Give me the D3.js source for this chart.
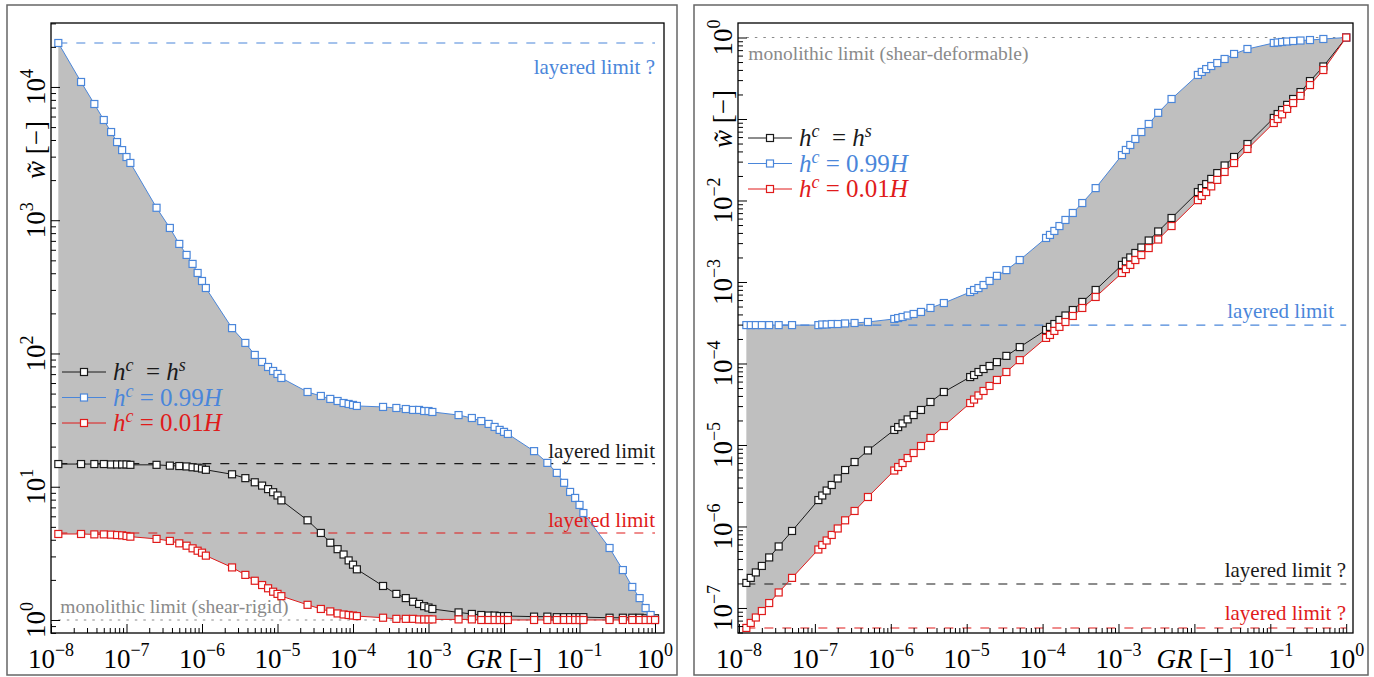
<!DOCTYPE html>
<html>
<head>
<meta charset="utf-8">
<script src="https://d3js.org/d3.v7.min.js"></script>
<style>
  body { margin: 0; background: #fff; }
  svg text { font-family: "Liberation Serif", "DejaVu Serif", serif; }
</style>
</head>
<body>
<svg id="chart" width="1374" height="677"></svg>
<script>
// ---- data ----
// left panel (shear-rigid)
const grLeft = [
  1.25e-8, 2.5e-8, 3.75e-8, 5e-8, 6.25e-8, 7.5e-8, 8.75e-8, 1e-7, 1.125e-7,
  2.5e-7, 3.75e-7, 5e-7, 6.25e-7, 7.5e-7, 8.75e-7, 1e-6, 1.125e-6,
  2.5e-6, 3.75e-6, 5e-6, 6.25e-6, 7.5e-6, 8.75e-6, 1e-5, 1.125e-5,
  2.5e-5, 3.75e-5, 5e-5, 6.25e-5, 7.5e-5, 8.75e-5, 1e-4, 1.125e-4,
  2.5e-4, 3.75e-4, 5e-4, 6.25e-4, 7.5e-4, 8.75e-4, 1e-3, 1.125e-3,
  2.5e-3, 3.75e-3, 5e-3, 6.25e-3, 7.5e-3, 8.75e-3, 1e-2, 1.125e-2,
  2.5e-2, 3.75e-2, 5e-2, 6.25e-2, 7.5e-2, 8.75e-2, 1e-1, 1.125e-1,
  2.5e-1, 3.75e-1, 5e-1, 6.25e-1, 7.5e-1, 8.75e-1, 1
];
const wLeftEqual = [
  14.8, 14.8, 14.8, 14.8, 14.7, 14.7, 14.7, 14.7, 14.6,
  14.6, 14.4, 14.3, 14.2, 14.0, 13.9, 13.7, 13.4,
  12.4, 11.6, 10.8, 10.2, 9.6, 9.1, 8.6, 7.9,
  5.6, 4.5, 3.8, 3.4, 3.1, 2.8, 2.6, 2.4,
  1.80, 1.57, 1.46, 1.37, 1.32, 1.27, 1.24, 1.21,
  1.14, 1.11, 1.09, 1.08, 1.08, 1.07, 1.07, 1.07,
  1.06, 1.06, 1.05, 1.05, 1.05, 1.05, 1.05, 1.05,
  1.04, 1.04, 1.04, 1.04, 1.03, 1.03, 1.03
];
const wLeftThick = [
  21380, 10900, 7450, 5650, 4590, 3860, 3360, 2980, 2690,
  1240, 875, 664, 549, 470, 402, 350, 310,
  155, 120, 97.5, 86.4, 79.2, 73.9, 70.2, 65.5,
  51.4, 48, 45.6, 44, 42.5, 41.8, 41.1, 40.4,
  39.7, 39, 38.3, 37.7, 37.7, 37, 37, 36.4,
  34.5, 32.8, 31.1, 29.6, 28.1, 26.7, 25.8, 24.9,
  18.5, 15.1, 12.7, 10.7, 9.14, 8.24, 7.3, 6.35,
  3.47, 2.37, 1.77, 1.46, 1.23, 1.09, 1.0
];
const wLeftThin = [
  4.42, 4.42, 4.39, 4.39, 4.37, 4.34, 4.32, 4.27, 4.22,
  4.06, 3.92, 3.76, 3.61, 3.45, 3.31, 3.20, 3.04,
  2.48, 2.18, 1.97, 1.83, 1.73, 1.63, 1.57, 1.51,
  1.30, 1.21, 1.16, 1.12, 1.10, 1.09, 1.08, 1.07,
  1.04, 1.02, 1.02, 1.02, 1.01, 1.01, 1.01, 1.01,
  1.01, 1.01, 1.0, 1.0, 1.0, 1.0, 1.0, 1.0,
  1.0, 1.0, 1.0, 1.0, 1.0, 1.0, 1.0, 1.0,
  1.0, 1.0, 1.0, 1.0, 1.0, 1.0, 1.0
];
const limitsLeft = [21400, 14.9, 4.5, 1];
const limitLabelsLeft = ["layered limit ?", "layered limit", "layered limit", "monolithic limit (shear-rigid)"];

// right panel (shear-deformable)
const grRight = [
  1.25e-8, 1.429e-8, 1.667e-8, 2e-8, 2.5e-8, 3.333e-8, 5e-8,
  1.111e-7, 1.25e-7, 1.429e-7, 1.667e-7, 2e-7, 2.5e-7, 3.333e-7, 5e-7,
  1.111e-6, 1.25e-6, 1.429e-6, 1.667e-6, 2e-6, 2.5e-6, 3.333e-6, 5e-6,
  1.111e-5, 1.25e-5, 1.429e-5, 1.667e-5, 2e-5, 2.5e-5, 3.333e-5, 5e-5,
  1.111e-4, 1.25e-4, 1.429e-4, 1.667e-4, 2e-4, 2.5e-4, 3.333e-4, 5e-4,
  1.111e-3, 1.25e-3, 1.429e-3, 1.667e-3, 2e-3, 2.5e-3, 3.333e-3, 5e-3,
  1.111e-2, 1.25e-2, 1.429e-2, 1.667e-2, 2e-2, 2.5e-2, 3.333e-2, 5e-2,
  0.1111, 0.125, 0.1429, 0.1667, 0.2, 0.25, 0.3333, 0.5, 1
];
const wRightEqual = [
  2.03e-7, 2.34e-7, 2.73e-7, 3.28e-7, 4.17e-7, 5.69e-7, 8.81e-7,
  2.11e-6, 2.40e-6, 2.76e-6, 3.23e-6, 3.88e-6, 4.93e-6, 6.18e-6, 8.57e-6,
  1.53e-5, 1.66e-5, 1.84e-5, 2.06e-5, 2.33e-5, 2.69e-5, 3.37e-5, 4.47e-5,
  6.82e-5, 7.22e-5, 7.86e-5, 8.56e-5, 9.32e-5, 1.04e-4, 1.24e-4, 1.59e-4,
  2.58e-4, 2.81e-4, 3.05e-4, 3.42e-4, 3.88e-4, 4.53e-4, 5.69e-4, 7.98e-4,
  1.62e-3, 1.79e-3, 2.00e-3, 2.27e-3, 2.65e-3, 3.23e-3, 4.17e-3, 6.10e-3,
  1.27e-2, 1.42e-2, 1.59e-2, 1.84e-2, 2.17e-2, 2.69e-2, 3.42e-2, 4.93e-2,
  0.103, 0.115, 0.129, 0.149, 0.176, 0.214, 0.292, 0.441, 1.0
];
const wRightThick = [
  2.96e-4, 2.96e-4, 2.96e-4, 2.96e-4, 2.96e-4, 2.96e-4, 2.96e-4,
  2.96e-4, 3.01e-4, 3.01e-4, 3.05e-4, 3.05e-4, 3.10e-4, 3.14e-4, 3.23e-4,
  3.52e-4, 3.61e-4, 3.72e-4, 3.88e-4, 4.05e-4, 4.29e-4, 4.80e-4, 5.52e-4,
  7.53e-4, 7.98e-4, 8.43e-4, 9.18e-4, 1.03e-3, 1.19e-3, 1.40e-3, 1.86e-3,
  3.47e-3, 3.78e-3, 4.23e-3, 4.86e-3, 5.77e-3, 7.03e-3, 9.31e-3, 1.42e-2,
  3.61e-2, 4.17e-2, 4.80e-2, 5.69e-2, 6.92e-2, 8.69e-2, 0.119, 0.176,
  0.347, 0.378, 0.410, 0.447, 0.486, 0.545, 0.628, 0.723,
  0.857, 0.869, 0.881, 0.893, 0.906, 0.918, 0.931, 0.959, 1.0
];
const wRightThin = [
  5.69e-8, 6.55e-8, 7.64e-8, 9.18e-8, 1.15e-7, 1.55e-7, 2.34e-7,
  5.22e-7, 5.93e-7, 6.73e-7, 7.87e-7, 9.45e-7, 1.19e-6, 1.55e-6, 2.30e-6,
  4.86e-6, 5.37e-6, 6.01e-6, 6.92e-6, 7.97e-6, 9.72e-6, 1.22e-5, 1.71e-5,
  3.27e-5, 3.61e-5, 4.05e-5, 4.60e-5, 5.30e-5, 6.28e-5, 7.86e-5, 1.10e-4,
  2.06e-4, 2.24e-4, 2.51e-4, 2.81e-4, 3.23e-4, 3.83e-4, 4.80e-4, 6.55e-4,
  1.29e-3, 1.44e-3, 1.62e-3, 1.86e-3, 2.14e-3, 2.61e-3, 3.32e-3, 4.86e-3,
  1.01e-2, 1.14e-2, 1.27e-2, 1.49e-2, 1.79e-2, 2.24e-2, 2.88e-2, 4.29e-2,
  8.93e-2, 0.100, 0.114, 0.133, 0.157, 0.192, 0.261, 0.399, 1.0
];
const limitsRight = [1, 2.96e-4, 1.97e-7, 5.69e-8];
const limitLabelsRight = ["monolithic limit (shear-deformable)", "layered limit", "layered limit ?", "layered limit ?"];

const xTickExps = [-8, -7, -6, -5, -4, -3, -2, -1, 0];

// ---- styles ----
const BLACK = "#1a1a1a", BLUE = "#4a86da", RED = "#e01b1b", GREY = "#8a8a8a", FILL = "#bfbfbf";
const seriesColors = [BLACK, BLUE, RED];

const svg = d3.select("#chart");

function powLabel(text, exp) {
  text.append("tspan").text("10");
  text.append("tspan").attr("dy", -12).attr("font-size", 18)
    .text(exp < 0 ? "\u2212" + (-exp) : String(exp));
}

function drawPanel(cfg) {
  const x = d3.scaleLog().domain(cfg.xDomain).range([cfg.left, cfg.right]);
  const y = d3.scaleLog().domain(cfg.yDomain).range([cfg.bottom, cfg.top]);

  // outer box
  svg.append("rect")
    .attr("x", cfg.box[0]).attr("y", cfg.box[1])
    .attr("width", cfg.box[2] - cfg.box[0]).attr("height", cfg.box[3] - cfg.box[1])
    .attr("fill", "none").attr("stroke", "#666").attr("stroke-width", 1.5);

  const g = svg.append("g");

  // grey band between the 0.99H and 0.01H curves
  const band = cfg.gr.map((v, i) => ({ gr: v, hi: cfg.series[1][i], lo: cfg.series[2][i] }));
  g.append("path")
    .datum(band)
    .attr("fill", FILL)
    .attr("d", d3.area().x(d => x(d.gr)).y0(d => y(d.lo)).y1(d => y(d.hi)));

  // limit lines
  const x0 = x(cfg.gr[0]), x1 = x(cfg.gr[cfg.gr.length - 1]);
  cfg.limits.forEach((v, i) => {
    const st = cfg.limitStyle[i];
    g.append("line")
      .attr("x1", x0).attr("x2", x1).attr("y1", y(v)).attr("y2", y(v))
      .attr("stroke", st.color).attr("stroke-width", 1.1)
      .attr("stroke-dasharray", st.dotted ? "2.5,6" : "9,9");
    g.append("text")
      .attr("x", st.anchor === "end" ? st.tx : x0 + 2)
      .attr("y", y(v) + st.dy)
      .attr("text-anchor", st.anchor)
      .attr("font-size", st.size)
      .attr("fill", st.color)
      .text(cfg.limitLabels[i]);
  });

  // series
  const line = d3.line().x(d => x(d[0])).y(d => y(d[1]));
  cfg.series.forEach((s, si) => {
    const pts = cfg.gr.map((v, i) => [v, s[i]]);
    g.append("path").datum(pts)
      .attr("fill", "none").attr("stroke", seriesColors[si]).attr("stroke-width", 1)
      .attr("d", line);
    g.selectAll(null).data(pts).join("rect")
      .attr("x", d => x(d[0]) - 3.5).attr("y", d => y(d[1]) - 3.5)
      .attr("width", 7).attr("height", 7)
      .attr("fill", "#fff").attr("stroke", seriesColors[si]).attr("stroke-width", 1.2);
  });

  // legend
  const legTexts = [
    [["h", true], ["c", true, true], ["  = ", false], ["h", true], ["s", true, true]],
    [["h", true], ["c", true, true], [" = 0.99", false], ["H", true]],
    [["h", true], ["c", true, true], [" = 0.01", false], ["H", true]]
  ];
  legTexts.forEach((parts, i) => {
    const ly = cfg.legend.y + i * 25.5;
    const lx = cfg.legend.x;
    g.append("line").attr("x1", lx).attr("x2", lx + 44).attr("y1", ly).attr("y2", ly)
      .attr("stroke", seriesColors[i]).attr("stroke-width", 1);
    g.append("rect").attr("x", lx + 18.5).attr("y", ly - 3.5).attr("width", 7).attr("height", 7)
      .attr("fill", "#fff").attr("stroke", seriesColors[i]).attr("stroke-width", 1.2);
    const t = g.append("text").attr("x", lx + 51).attr("y", ly + 8)
      .attr("font-size", 25).attr("fill", seriesColors[i])
      .style("white-space", "pre");
    let raised = false;
    parts.forEach(p => {
      const ts = t.append("tspan").text(p[0]).attr("font-style", p[1] ? "italic" : "normal");
      if (p[2] && !raised) { ts.attr("dy", -9).attr("font-size", 18); raised = true; }
      else if (!p[2] && raised) { ts.attr("dy", 9); raised = false; }
      else if (p[2]) ts.attr("font-size", 18);
    });
  });

  // axes: ticks pointing inward
  const xMajor = xTickExps.map(e => Math.pow(10, e));
  const xMinor = [];
  xTickExps.forEach(e => d3.range(2, 10).forEach(k => {
    const v = k * Math.pow(10, e);
    if (v > cfg.xDomain[0] && v < cfg.xDomain[1]) xMinor.push(v);
  }));
  const yExps = d3.range(Math.floor(Math.log10(cfg.yDomain[0])), Math.ceil(Math.log10(cfg.yDomain[1])) + 1);
  const yMajor = yExps.map(e => Math.pow(10, e)).filter(v => v >= cfg.yDomain[0] && v <= cfg.yDomain[1]);
  const yMinor = [];
  yExps.forEach(e => d3.range(2, 10).forEach(k => {
    const v = k * Math.pow(10, e);
    if (v > cfg.yDomain[0] && v < cfg.yDomain[1]) yMinor.push(v);
  }));

  const ax = svg.append("g").attr("transform", `translate(0,${cfg.bottom})`);
  ax.call(d3.axisBottom(x).tickValues(xMajor).tickSize(-9).tickFormat(""));
  ax.append("g").call(d3.axisBottom(x).tickValues(xMinor).tickSize(-5).tickFormat(""));
  const ay = svg.append("g").attr("transform", `translate(${cfg.left},0)`);
  ay.call(d3.axisLeft(y).tickValues(yMajor).tickSize(-9).tickFormat(""));
  ay.append("g").call(d3.axisLeft(y).tickValues(yMinor).tickSize(-5).tickFormat(""));
  svg.selectAll(".domain").remove();
  svg.selectAll(".tick line").attr("stroke", "#000").attr("stroke-width", 1);

  // frame
  svg.append("rect")
    .attr("x", cfg.left).attr("y", cfg.top)
    .attr("width", cfg.right - cfg.left).attr("height", cfg.bottom - cfg.top)
    .attr("fill", "none").attr("stroke", "#000").attr("stroke-width", 1.3);

  // x tick labels
  xTickExps.forEach(e => {
    const t = svg.append("text").attr("x", x(Math.pow(10, e))).attr("y", 668)
      .attr("text-anchor", "middle").attr("font-size", 27).attr("fill", "#000");
    if (e === -2) {
      t.append("tspan").attr("font-style", "italic").text("GR");
      t.append("tspan").text(" [\u2212]");
    } else {
      powLabel(t, e);
    }
  });

  // y tick labels (rotated)
  yMajor.forEach(v => {
    const e = Math.round(Math.log10(v));
    if (e === cfg.yTitleExp) return;
    const t = svg.append("text")
      .attr("transform", `translate(${cfg.left - 6},${y(v)}) rotate(-90)`)
      .attr("text-anchor", "middle").attr("font-size", 27).attr("fill", "#000");
    powLabel(t, e);
  });
  const yt = svg.append("text")
    .attr("transform", `translate(${cfg.left - 6},${cfg.yTitleY}) rotate(-90)`)
    .attr("text-anchor", "middle").attr("font-size", 27).attr("fill", "#000");
  yt.append("tspan").attr("font-style", "italic").text("w\u0303");
  yt.append("tspan").text(" [\u2212]");
}

drawPanel({
  box: [7, 5, 677, 675],
  left: 51, right: 664, top: 23, bottom: 633,
  xDomain: [1e-8, Math.pow(10, 0.119)],
  yDomain: [Math.pow(10, -0.0976), Math.pow(10, 4.48)],
  gr: grLeft,
  series: [wLeftEqual, wLeftThick, wLeftThin],
  limits: limitsLeft,
  limitLabels: limitLabelsLeft,
  limitStyle: [
    { color: BLUE, anchor: "end", tx: 655, dy: 31, size: 21 },
    { color: BLACK, anchor: "end", tx: 655, dy: -6, size: 21 },
    { color: RED, anchor: "end", tx: 655, dy: -6, size: 21 },
    { color: GREY, anchor: "start", dy: -7, size: 19.5, dotted: true }
  ],
  legend: { x: 62, y: 372 },
  yTitleExp: null, yTitleY: 150
});

drawPanel({
  box: [694, 5, 1368, 675],
  left: 738, right: 1353, top: 23, bottom: 633,
  xDomain: [Math.pow(10, -8.013), Math.pow(10, 0.0896)],
  yDomain: [Math.pow(10, -7.307), Math.pow(10, 0.178)],
  gr: grRight,
  series: [wRightEqual, wRightThick, wRightThin],
  limits: limitsRight,
  limitLabels: limitLabelsRight,
  limitStyle: [
    { color: GREY, anchor: "start", dy: 22, size: 19.5, dotted: true },
    { color: BLUE, anchor: "end", tx: 1334, dy: -7, size: 21 },
    { color: BLACK, anchor: "end", tx: 1346, dy: -7, size: 21 },
    { color: RED, anchor: "end", tx: 1346, dy: -8, size: 21 }
  ],
  legend: { x: 748, y: 138 },
  yTitleExp: -1, yTitleY: 119
});
</script>
</body>
</html>
